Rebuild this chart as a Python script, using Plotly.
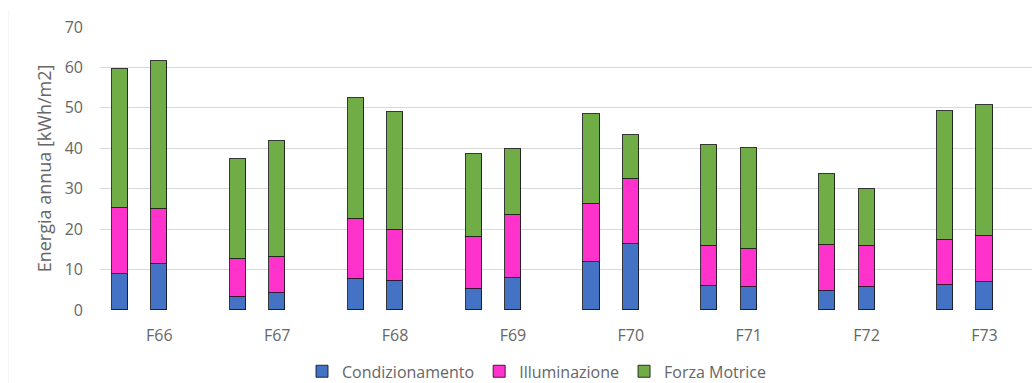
import plotly.graph_objects as go

# Annual energy use per building, two variants each (kWh/m2)
categories = ["F66", "F67", "F68", "F69", "F70", "F71", "F72", "F73"]

condizionamento = [8.8, 11.5, 3.2, 4.1, 7.6, 7.2, 5.1, 8.0,
                   11.8, 16.3, 5.9, 5.6, 4.6, 5.6, 6.2, 7.0]
illuminazione = [16.4, 13.4, 9.5, 8.9, 14.8, 12.7, 12.9, 15.4,
                 14.4, 16.2, 9.9, 9.4, 11.6, 10.3, 11.2, 11.2]
forza_motrice = [34.4, 36.7, 24.6, 28.9, 30.0, 29.0, 20.6, 16.4,
                 22.4, 10.9, 25.0, 25.1, 17.4, 14.0, 31.9, 32.5]

y_ticks = [0, 10, 20, 30, 40, 50, 60, 70]

series = [
    ("Condizionamento", condizionamento, "#4472C4"),
    ("Illuminazione", illuminazione, "#FF33CC"),
    ("Forza Motrice", forza_motrice, "#70AD47"),
]

# each building takes three slots; the two variants sit in the first two,
# the third slot stays empty as a gap between groups
x_pos = []
for i in range(len(categories)):
    x_pos += [3 * i, 3 * i + 1]
tick_pos = [3 * i + 1 for i in range(len(categories))]

fig = go.Figure()
for name, vals, color in series:
    fig.add_trace(go.Bar(
        name=name,
        x=x_pos,
        y=vals,
        width=0.41,
        marker=dict(color=color, line=dict(color="rgba(20,20,20,0.85)", width=1)),
    ))

font_family = "Open Sans, Lato, sans-serif"
grey = "#666666"

W, H = 1032, 383
ML, MR, MT, MB = 100, 0, 27, 73.3
plot_w, plot_h = W - ML - MR, H - MT - MB

fig.update_layout(
    barmode="stack",
    width=W,
    height=H,
    margin=dict(l=ML, r=MR, t=MT, b=MB, pad=0, autoexpand=False),
    paper_bgcolor="white",
    plot_bgcolor="white",
    font=dict(family=font_family, color=grey, size=16),
    showlegend=True,
    legend=dict(
        orientation="h",
        x=(302 - ML) / plot_w, xanchor="left",
        y=-(371 - (H - MB)) / plot_h, yanchor="middle",
        font=dict(size=16, color=grey),
        traceorder="normal",
        itemwidth=30,
        bgcolor="rgba(0,0,0,0)",
    ),
    bargap=0,
)

fig.update_xaxes(
    range=[-0.51, 23.21],
    tickmode="array",
    tickvals=tick_pos,
    ticktext=categories,
    showgrid=False,
    zeroline=False,
    showline=False,
    ticks="",
    ticklabelstandoff=14,
    tickfont=dict(size=16, color=grey),
)

fig.update_yaxes(
    range=[0, 70],
    tickmode="array",
    tickvals=y_ticks,
    showgrid=True,
    gridcolor="#D9D9D9",
    gridwidth=1,
    zeroline=False,
    showline=False,
    ticks="",
    ticklabelstandoff=16,
    tickfont=dict(size=16, color=grey),
    title=dict(text="Energia annua [kWh/m2]", font=dict(size=18, color=grey), standoff=8),
)

# faint outer frame edge on the left
fig.add_shape(type="line", xref="paper", yref="paper",
              x0=-(ML - 8.5) / plot_w, x1=-(ML - 8.5) / plot_w,
              y0=-MB / plot_h, y1=(H - 10 - MB) / plot_h,
              line=dict(color="#F5F5F5", width=1), layer="below")

fig.write_html("out.html")
